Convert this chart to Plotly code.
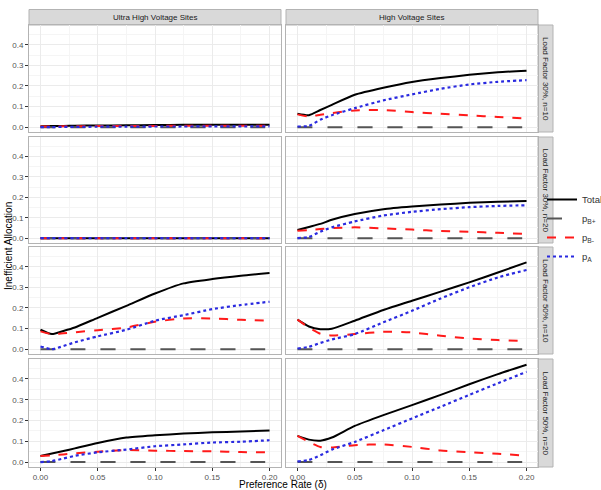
import plotly.graph_objects as go

# ---------------- data ----------------
delta = [0, 0.01, 0.02, 0.03, 0.05, 0.075, 0.1, 0.125, 0.15, 0.175, 0.2]

col_labels = ["Ultra High Voltage Sites", "High Voltage Sites"]
row_labels = ["Load Factor 30%, n=10", "Load Factor 30%, n=20",
              "Load Factor 50%, n=10", "Load Factor 50%, n=20"]
series_names = ["Total", "p<sub>B+</sub>", "p<sub>B-</sub>", "p<sub>A</sub>"]

zeros = [0] * 11

# Ultra High Voltage, LF 30% n=10
uhv30_10_total = [0.004, 0.005, 0.006, 0.007, 0.008, 0.009, 0.010, 0.011, 0.011, 0.012, 0.012]
uhv30_10_pbp = zeros
uhv30_10_pbm = [0.003, 0.003, 0.004, 0.004, 0.005, 0.006, 0.006, 0.007, 0.007, 0.007, 0.007]
uhv30_10_pa = [0, 0, 0.001, 0.001, 0.002, 0.002, 0.003, 0.003, 0.004, 0.004, 0.004]

# Ultra High Voltage, LF 30% n=20
uhv30_20_total = zeros
uhv30_20_pbp = zeros
uhv30_20_pbm = zeros
uhv30_20_pa = zeros

# Ultra High Voltage, LF 50% n=10
uhv50_10_total = [0.094, 0.073, 0.088, 0.105, 0.152, 0.21, 0.27, 0.319, 0.34, 0.356, 0.369]
uhv50_10_pbp = zeros
uhv50_10_pbm = [0.086, 0.073, 0.077, 0.082, 0.092, 0.105, 0.133, 0.149, 0.149, 0.142, 0.138]
uhv50_10_pa = [0.013, 0, 0.015, 0.033, 0.062, 0.094, 0.138, 0.165, 0.194, 0.214, 0.23]

# Ultra High Voltage, LF 50% n=20
uhv50_20_total = [0.029, 0.041, 0.053, 0.066, 0.092, 0.118, 0.129, 0.137, 0.143, 0.147, 0.152]
uhv50_20_pbp = zeros
uhv50_20_pbm = [0.029, 0.033, 0.037, 0.042, 0.05, 0.058, 0.055, 0.053, 0.052, 0.048, 0.047]
uhv50_20_pa = [0, 0.005, 0.017, 0.03, 0.047, 0.06, 0.076, 0.085, 0.094, 0.098, 0.105]

# High Voltage, LF 30% n=10
hv30_10_total = [0.065, 0.058, 0.083, 0.108, 0.157, 0.191, 0.219, 0.238, 0.254, 0.266, 0.274]
hv30_10_pbp = zeros
hv30_10_pbm = [0.062, 0.052, 0.06, 0.068, 0.081, 0.083, 0.073, 0.065, 0.057, 0.049, 0.042]
hv30_10_pa = [0.003, 0.006, 0.036, 0.058, 0.092, 0.13, 0.159, 0.186, 0.207, 0.22, 0.228]

# High Voltage, LF 30% n=20
hv30_20_total = [0.04, 0.055, 0.07, 0.09, 0.118, 0.142, 0.155, 0.165, 0.173, 0.179, 0.182]
hv30_20_pbp = zeros
hv30_20_pbm = [0.037, 0.04, 0.045, 0.049, 0.053, 0.048, 0.042, 0.035, 0.031, 0.026, 0.021]
hv30_20_pa = [0, 0.006, 0.032, 0.053, 0.082, 0.111, 0.129, 0.142, 0.152, 0.158, 0.161]

# High Voltage, LF 50% n=10
hv50_10_total = [0.143, 0.11, 0.097, 0.099, 0.138, 0.19, 0.235, 0.279, 0.324, 0.372, 0.421]
hv50_10_pbp = zeros
hv50_10_pbm = [0.143, 0.105, 0.075, 0.066, 0.073, 0.084, 0.081, 0.065, 0.052, 0.044, 0.039]
hv50_10_pa = [0.003, 0.011, 0.03, 0.047, 0.073, 0.13, 0.186, 0.246, 0.3, 0.348, 0.384]

# High Voltage, LF 50% n=20
hv50_20_total = [0.126, 0.108, 0.103, 0.118, 0.174, 0.226, 0.274, 0.323, 0.374, 0.423, 0.468]
hv50_20_pbp = zeros
hv50_20_pbm = [0.126, 0.097, 0.073, 0.07, 0.081, 0.085, 0.073, 0.056, 0.048, 0.04, 0.031]
hv50_20_pa = [0.003, 0.01, 0.033, 0.06, 0.097, 0.153, 0.21, 0.266, 0.323, 0.379, 0.434]

panels = {
    (0, 0): [uhv30_10_total, uhv30_10_pbp, uhv30_10_pbm, uhv30_10_pa],
    (1, 0): [uhv30_20_total, uhv30_20_pbp, uhv30_20_pbm, uhv30_20_pa],
    (2, 0): [uhv50_10_total, uhv50_10_pbp, uhv50_10_pbm, uhv50_10_pa],
    (3, 0): [uhv50_20_total, uhv50_20_pbp, uhv50_20_pbm, uhv50_20_pa],
    (0, 1): [hv30_10_total, hv30_10_pbp, hv30_10_pbm, hv30_10_pa],
    (1, 1): [hv30_20_total, hv30_20_pbp, hv30_20_pbm, hv30_20_pa],
    (2, 1): [hv50_10_total, hv50_10_pbp, hv50_10_pbm, hv50_10_pa],
    (3, 1): [hv50_20_total, hv50_20_pbp, hv50_20_pbm, hv50_20_pa],
}

x_ticks = [0, 0.05, 0.1, 0.15, 0.2]
x_ticklabels = ["0.00", "0.05", "0.10", "0.15", "0.20"]
y_ticks = [0, 0.1, 0.2, 0.3, 0.4]
y_ticklabels = ["0.0", "0.1", "0.2", "0.3", "0.4"]

# ---------------- styling / layout ----------------
W, H = 601, 490
styles = [
    dict(color="black", width=2, dash="solid"),
    dict(color="#555555", width=2, dash="longdash"),
    dict(color="#FF1A1A", width=2, dash="dash"),
    dict(color="#2A2AE0", width=2.2, dash="dot"),
]
col_px = [(29, 281), (286, 538)]
row_px = [(25, 132), (137, 243), (247, 354), (359, 467)]
strip_top = 9.5
strip_right = 553
border = "#B3B3B3"
strip_fill = "#D9D9D9"
FONT = "Liberation Sans, Arial, sans-serif"

def px_x(p):
    return p / W

def px_y(p):
    return 1 - p / H

fig = go.Figure()
layout = dict(
    width=W, height=H,
    margin=dict(l=0, r=0, t=0, b=0, pad=0, autoexpand=False),
    paper_bgcolor="white", plot_bgcolor="white",
    font=dict(family=FONT, size=9, color="#333333"),
    showlegend=True,
)
shapes = []
annotations = []

idx = 0
for r in range(4):
    for c in range(2):
        idx += 1
        sfx = "" if idx == 1 else str(idx)
        xa, ya = "x" + sfx, "y" + sfx
        vals = panels[(r, c)]
        for k in range(4):
            fig.add_trace(go.Scatter(
                x=delta, y=vals[k], mode="lines", name=series_names[k],
                line=dict(shape="spline", smoothing=0.6, **styles[k]),
                xaxis=xa, yaxis=ya, legendgroup=series_names[k],
                showlegend=(idx == 1), hoverinfo="skip",
            ))
        bottom = (r == 3)
        left = (c == 0)
        layout["xaxis" + sfx] = dict(
            domain=[px_x(col_px[c][0]), px_x(col_px[c][1])],
            anchor=ya, range=[-0.01, 0.21],
            tickvals=x_ticks, ticktext=x_ticklabels,
            showticklabels=bottom, ticks="outside" if bottom else "",
            ticklen=2.5, tickcolor="#333333",
            tickfont=dict(size=8, color="#555555"),
            showgrid=True, gridcolor="#EBEBEB", gridwidth=1,
            minor=dict(tickvals=[0.025, 0.075, 0.125, 0.175], showgrid=True,
                       gridcolor="#F5F5F5", gridwidth=0.6),
            zeroline=False, showline=True, mirror=True,
            linecolor=border, linewidth=1, automargin=False,
        )
        layout["yaxis" + sfx] = dict(
            domain=[px_y(row_px[r][1]), px_y(row_px[r][0])],
            anchor=xa, range=[-0.0236, 0.4956],
            tickvals=y_ticks, ticktext=y_ticklabels,
            showticklabels=left, ticks="outside" if left else "",
            ticklen=3, tickcolor="#333333",
            tickfont=dict(size=8, color="#555555"),
            showgrid=True, gridcolor="#EBEBEB", gridwidth=1,
            minor=dict(tickvals=[0.05, 0.15, 0.25, 0.35, 0.45], showgrid=True,
                       gridcolor="#F5F5F5", gridwidth=0.6),
            zeroline=False, showline=True, mirror=True,
            linecolor=border, linewidth=1, automargin=False,
        )

# column strips
for c in range(2):
    shapes.append(dict(type="rect", xref="paper", yref="paper",
                       x0=px_x(col_px[c][0]), x1=px_x(col_px[c][1]),
                       y0=px_y(row_px[0][0]), y1=px_y(strip_top),
                       fillcolor=strip_fill, line=dict(color=border, width=1),
                       layer="below"))
    annotations.append(dict(xref="paper", yref="paper",
                            x=px_x((col_px[c][0] + col_px[c][1]) / 2),
                            y=px_y((strip_top + row_px[0][0]) / 2),
                            text=col_labels[c], showarrow=False,
                            font=dict(size=8, color="#1A1A1A"),
                            xanchor="center", yanchor="middle"))
# row strips
for r in range(4):
    shapes.append(dict(type="rect", xref="paper", yref="paper",
                       x0=px_x(col_px[1][1]), x1=px_x(strip_right),
                       y0=px_y(row_px[r][1]), y1=px_y(row_px[r][0]),
                       fillcolor=strip_fill, line=dict(color=border, width=1),
                       layer="below"))
    annotations.append(dict(xref="paper", yref="paper",
                            x=px_x((col_px[1][1] + strip_right) / 2),
                            y=px_y((row_px[r][0] + row_px[r][1]) / 2),
                            text=row_labels[r], showarrow=False, textangle=90,
                            font=dict(size=8, color="#1A1A1A"),
                            xanchor="center", yanchor="middle"))

# axis titles
annotations.append(dict(xref="paper", yref="paper", x=px_x(8), y=px_y(246),
                        text="Inefficient Allocation", showarrow=False,
                        textangle=-90, font=dict(size=10, color="black"),
                        xanchor="center", yanchor="middle"))
annotations.append(dict(xref="paper", yref="paper", x=px_x(283), y=px_y(484),
                        text="Preference Rate (δ)", showarrow=False,
                        font=dict(size=10, color="black"),
                        xanchor="center", yanchor="middle"))

layout["shapes"] = shapes
layout["annotations"] = annotations
layout["legend"] = dict(x=px_x(542), y=px_y(185), xanchor="left", yanchor="top",
                        font=dict(size=9.5, color="#333333"), itemwidth=30,
                        tracegroupgap=0, bgcolor="rgba(0,0,0,0)")
fig.update_layout(**layout)
fig.write_html("out.html", config={"displayModeBar": False},
               post_script="document.body.style.margin='0px';document.body.style.padding='0px';")
